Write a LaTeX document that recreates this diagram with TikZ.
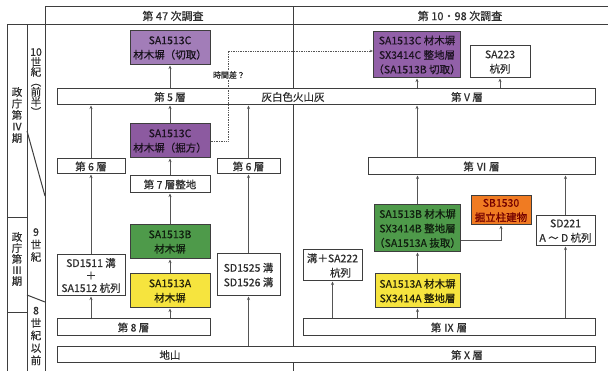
\documentclass[tikz,border=0pt]{standalone}
\usepackage{fontspec}
\setmainfont{Noto Sans CJK JP}[FakeBold=0.5]
\usetikzlibrary{arrows.meta,backgrounds}
\definecolor{linec}{HTML}{3E3E3E}
\definecolor{arrc}{HTML}{555555}
\definecolor{txt}{HTML}{2E2E2E}
\definecolor{purpL}{HTML}{A27DB8}
\definecolor{purpD}{HTML}{8C5AA0}
\definecolor{purpR}{HTML}{9260A8}
\definecolor{grn}{HTML}{4E9A4A}
\definecolor{yel}{HTML}{F6E43E}
\definecolor{org}{HTML}{F07B22}
\begin{document}
\begin{tikzpicture}[x=1pt,y=-1pt,
  frame/.style={draw=linec, line width=1pt},
  box/.style={draw=linec, line width=1pt, fill=white, inner sep=0pt, align=center,
              font=\fontsize{10.5}{14.5}\selectfont, text=txt},
  lbl/.style={inner sep=0pt, font=\fontsize{10.5}{12}\selectfont, text=txt},
  vt/.style={inner sep=0pt, align=center, text=txt},
  arr/.style={draw=arrc, line width=0.7pt, -{Stealth[length=3.5pt,width=3pt]}},
  conn/.style={draw=arrc, line width=0.7pt}]
\useasboundingbox (0,0) rectangle (608,371);
\fill[white] (0,0) rectangle (608,371);

% frame
\draw[frame] (612,7) -- (45,7) -- (45,371);
\draw[frame] (45,25) -- (612,25);
\draw[frame] (293,7) -- (293,371);
\draw[frame] (45,25) -- (7,25) -- (7,371);
\draw[frame] (27,25) -- (27,371);
\draw[frame] (7,218) -- (27,218);
\draw[frame] (7,313) -- (27,313);
\draw[frame] (27,131) -- (45,196);
\draw[frame] (27,295) -- (45,302);

\node[lbl, font=\fontsize{11}{12}\selectfont] (h47) at (173,16) {第 47 次調査};
\node[lbl, font=\fontsize{11}{12}\selectfont] (h10) at (460,16) {第 10・98 次調査};

% side labels
\node[vt, font=\fontsize{10.5}{11.5}\selectfont] (p4) at (17,115) {政\\庁\\第\\Ⅳ\\期};
\node[vt, font=\fontsize{10.5}{10}\selectfont] (c10) at (36,82) {10\\世\\紀\\︵\\前\\半\\︶};
\node[vt, font=\fontsize{10.5}{12.5}\selectfont] (c9) at (36,245) {9\\世\\紀};
\node[vt, font=\fontsize{10.5}{11}\selectfont] (p3) at (17,259) {政\\庁\\第\\Ⅲ\\期};
\node[vt, font=\fontsize{10.5}{12.5}\selectfont] (c8) at (36,336) {8\\世\\紀\\以\\前};

% left (47th)
\node[box, fill=purpL, text=black!85!purpL, minimum width=80, minimum height=34] (cA) at (170,48) {SA1513C\\材木塀（切取）};
\node[box, minimum width=538, minimum height=16] (L5) at (326,97) {};
\node[lbl] (L5a) at (170,97) {第 5 層};
\node[lbl] (L5b) at (293,97) {灰白色火山灰};
\node[lbl] (L5c) at (467,97) {第 V 層};
\node[box, fill=purpD, text=black!80!purpD, minimum width=80, minimum height=34] (cB) at (170,141) {SA1513C\\材木塀（掘方）};
\node[box, minimum width=68, minimum height=15] (L6a) at (91,166.5) {第 6 層};
\node[box, minimum width=63, minimum height=15] (L6b) at (248.5,166.5) {第 6 層};
\node[box, minimum width=80, minimum height=17] (L7) at (170,184.5) {第 7 層整地};
\node[box, fill=grn, text=black!80!grn, minimum width=80, minimum height=34] (bB) at (170,242) {SA1513B\\材木塀};
\node[box, fill=yel, text=black!85!yel, minimum width=80, minimum height=34] (aA) at (170,291) {SA1513A\\材木塀};
\node[box, minimum width=68, minimum height=41, font=\fontsize{10.5}{12.5}\selectfont] (SD1511) at (91,275.5) {SD1511 溝\\＋\\SA1512 杭列};
\node[box, minimum width=63, minimum height=42] (SD1525) at (248.5,275) {SD1525 溝\\SD1526 溝};
\node[box, minimum width=153, minimum height=17] (L8) at (133.5,327.5) {第 8 層};
\node[box, minimum width=538, minimum height=16] (bot) at (326,355) {};
\node[lbl] (botA) at (170,355) {地山};
\node[lbl] (botB) at (467,355) {第 X 層};

% right (10/98th)
\node[box, fill=purpR, text=black!80!purpR, minimum width=86, minimum height=46] (rC) at (417,55) {SA1513C 材木塀\\SX3414C 整地層\\（SA1513B 切取）};
\node[box, minimum width=60, minimum height=32] (SA223) at (500,62) {SA223\\杭列};
\node[box, fill=org, text=red!45!black, minimum width=60, minimum height=29] (SB1530) at (501,210.5) {SB1530\\掘立柱建物};
\begin{pgfonlayer}{background}
\draw[conn] (SB1530.north) -- (SB1530.north |- L5.south);
\end{pgfonlayer}
\node[box, minimum width=227, minimum height=17] (LVI) at (481.5,166.5) {第 Ⅵ 層};
\node[box, minimum width=59, minimum height=30] (SD221) at (565.5,231) {SD221\\A ～ D 杭列};
\node[box, fill=grn, text=black!80!grn, minimum width=85, minimum height=47] (rB) at (417.5,228.5) {SA1513B 材木塀\\SX3414B 整地層\\（SA1513A 抜取）};
\node[box, minimum width=59, minimum height=31] (SA222) at (332.5,265.5) {溝＋SA222\\\hspace*{16pt}杭列};
\node[box, fill=yel, text=black!85!yel, minimum width=85, minimum height=34] (rA) at (417.5,291) {SA1513A 材木塀\\SX3414A 整地層};
\node[box, minimum width=292, minimum height=17] (LIX) at (449,327.5) {第 Ⅸ 層};

% arrows left
\draw[arr] (L5.north -| cA.south) -- (cA.south);
\draw[arr] (cB.north) -- (cB.north |- L5.south);
\draw[arr] (L6a.north) -- (L6a.north |- L5.south);
\draw[arr] (L6b.north) -- (L6b.north |- L5.south);
\draw[arr] (L7.north) -- (cB.south);
\draw[arr] (bB.north) -- (L7.south);
\draw[arr] (aA.north) -- (bB.south);
\draw[arr] (SD1511.north) -- (L6a.south);
\draw[arr] (SD1525.north) -- (L6b.south);
\draw[arr] (L8.north -| SD1511.south) -- (SD1511.south);
\draw[arr] (L8.north -| aA.south) -- (aA.south);
\draw[arr] (bot.north -| SD1525.south) -- (SD1525.south);

% arrows right
\draw[arr] (L5.north -| rC.south) -- (rC.south);
\draw[arr] (L5.north -| SA223.south) -- (SA223.south);
\draw[arr] (LVI.north -| rC.south) -- (L5.south -| rC.south);
\draw[arr] (rB.north) -- (rB.north |- LVI.south);
\draw[arr] ([yshift=-11.5pt]rB.east) -| (SB1530.south);
\draw[arr] (rA.north) -- (rB.south);
\draw[arr] (LIX.north -| SA222.south) -- (SA222.south);
\draw[arr] (LIX.north -| rA.south) -- (rA.south);
\draw[arr] (LIX.north -| SD221.south) -- (SD221.south);
\draw[arr] (SD221.north) -- (SD221.north |- LVI.south);

% dotted time-lag link
\coordinate (dk) at (228,51);
\draw[draw=arrc, line width=0.7pt, densely dotted, -{Stealth[length=3pt,width=2.5pt]}] (cB.east) -| (dk) -- (dk -| rC.west);
\node[fill=white, inner sep=1pt, font=\fontsize{8}{9}\selectfont\addfontfeatures{FakeBold=1.5}, text=txt] (lag) at (229,75) {時間差？};
\end{tikzpicture}
\end{document}
